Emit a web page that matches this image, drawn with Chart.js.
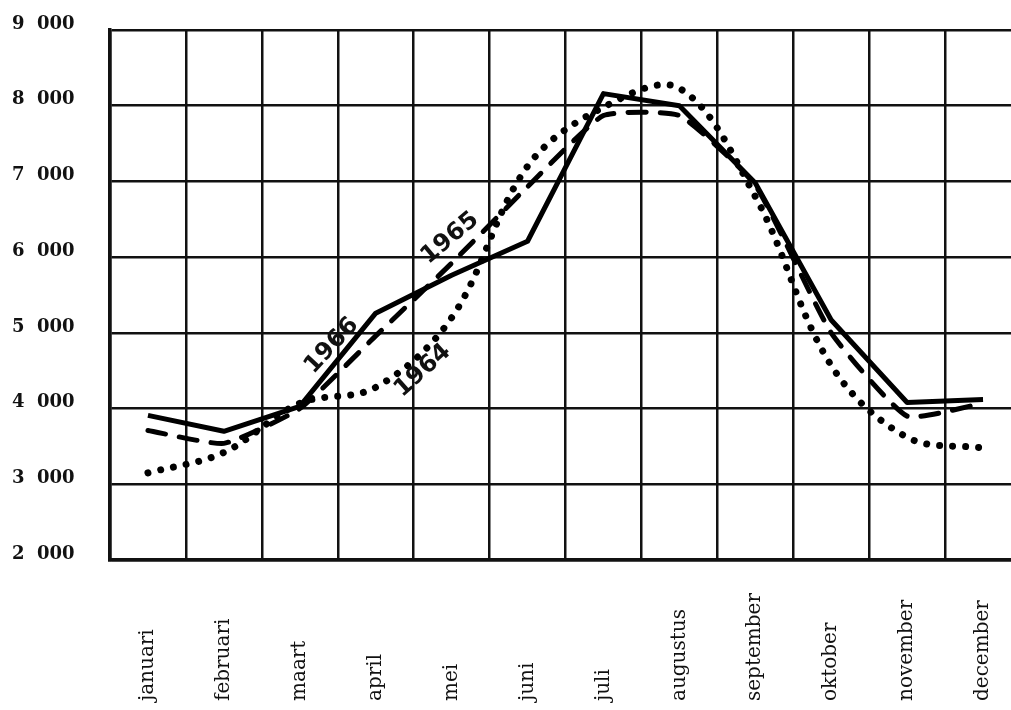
<!DOCTYPE html>
<html>
<head>
<meta charset="utf-8">
<script src="https://cdn.jsdelivr.net/npm/chart.js@4"></script>
<style>
  html, body { margin: 0; padding: 0; background: #fff; overflow: hidden; }
  #wrap { width: 1040px; height: 710px; }
</style>
</head>
<body>
<div id="wrap"><canvas id="bezoekChart"></canvas></div>
<script>
const maanden = ['januari', 'februari', 'maart', 'april', 'mei', 'juni',
  'juli', 'augustus', 'september', 'oktober', 'november', 'december'];

const jaar1964 = [3150, 3420, 4070, 4280, 5200, 7200, 7980, 8230, 6800, 4570, 3620, 3480];
const jaar1965 = [3710, 3540, 4000, 4960, 5920, 6930, 7870, 7870, 6950, 5000, 3900, 4070];
const jaar1966 = [3910, 3700, 4030, 5260, 5760, 6210, 8160, 8000, 6980, 5170, 4080, 4120];

const yMin = 2000;
const yMax = 9000;
const yStap = 1000;

// year names written along the lines: text, month index, value, angle (deg)
const jaarLabels = [
  ['1966', 2.42, 4830, -47],
  ['1965', 3.98, 6250, -40],
  ['1964', 3.62, 4500, -42]
];

const fmtDuizend = v => (v / 1000) + '  000';

function pixelX(scale, idx) {
  const i = Math.floor(idx);
  const a = scale.getPixelForValue(i);
  const b = scale.getPixelForValue(i + 1);
  return a + (idx - i) * (b - a);
}

// month names (rotated, starting at the bottom) and year names
const tekstPlugin = {
  id: 'tekst',
  afterDraw(chart) {
    const { ctx, scales: { x, y } } = chart;
    ctx.save();
    ctx.fillStyle = '#111';

    ctx.font = '20px "DejaVu Serif"';
    ctx.textAlign = 'left';
    ctx.textBaseline = 'middle';
    maanden.forEach((m, i) => {
      ctx.save();
      ctx.translate(x.getPixelForValue(i), 701);
      ctx.rotate(-Math.PI / 2);
      ctx.fillText(m, 0, 0);
      ctx.restore();
    });

    ctx.font = 'bold 24px "DejaVu Sans"';
    ctx.textAlign = 'center';
    jaarLabels.forEach(([txt, idx, val, hoek]) => {
      ctx.save();
      ctx.translate(pixelX(x, idx), y.getPixelForValue(val));
      ctx.rotate(hoek * Math.PI / 180);
      ctx.fillText(txt, 0, 0);
      ctx.restore();
    });
    ctx.restore();
  }
};

const ctx = document.getElementById('bezoekChart').getContext('2d');

new Chart(ctx, {
  type: 'line',
  data: {
    labels: maanden,
    datasets: [
      {
        label: '1966',
        data: jaar1966,
        borderColor: '#000',
        borderWidth: 5,
        tension: 0,
        borderJoinStyle: 'round'
      },
      {
        label: '1965',
        data: jaar1965,
        borderColor: '#000',
        borderWidth: 5,
        borderDash: [18, 14],
        borderCapStyle: 'round',
        tension: 0.15
      },
      {
        label: '1964',
        data: jaar1964,
        borderColor: '#000',
        borderWidth: 7,
        borderDash: [0.01, 13],
        borderCapStyle: 'round',
        tension: 0.35
      }
    ]
  },
  options: {
    responsive: true,
    maintainAspectRatio: false,
    animation: false,
    layout: { padding: { left: 12, top: 30, right: 19, bottom: 150 } },
    elements: { point: { radius: 0 } },
    plugins: {
      legend: { display: false },
      tooltip: { enabled: false }
    },
    scales: {
      x: {
        offset: true,
        grid: { offset: true, color: '#111', lineWidth: 2.5, drawTicks: false },
        border: { display: true, color: '#111', width: 3.5 },
        ticks: { display: false }
      },
      y: {
        min: yMin,
        max: yMax,
        afterFit: s => { s.width = 98; },
        grid: { color: '#111', lineWidth: 2.5, drawTicks: false },
        border: { display: true, color: '#111', width: 3.5 },
        ticks: {
          stepSize: yStap,
          padding: 0,
          crossAlign: 'far',
          labelOffset: -6,
          color: '#111',
          font: { family: '"DejaVu Serif"', size: 18, weight: 'bold' },
          callback: fmtDuizend
        }
      }
    }
  },
  plugins: [tekstPlugin]
});
</script>
</body>
</html>
